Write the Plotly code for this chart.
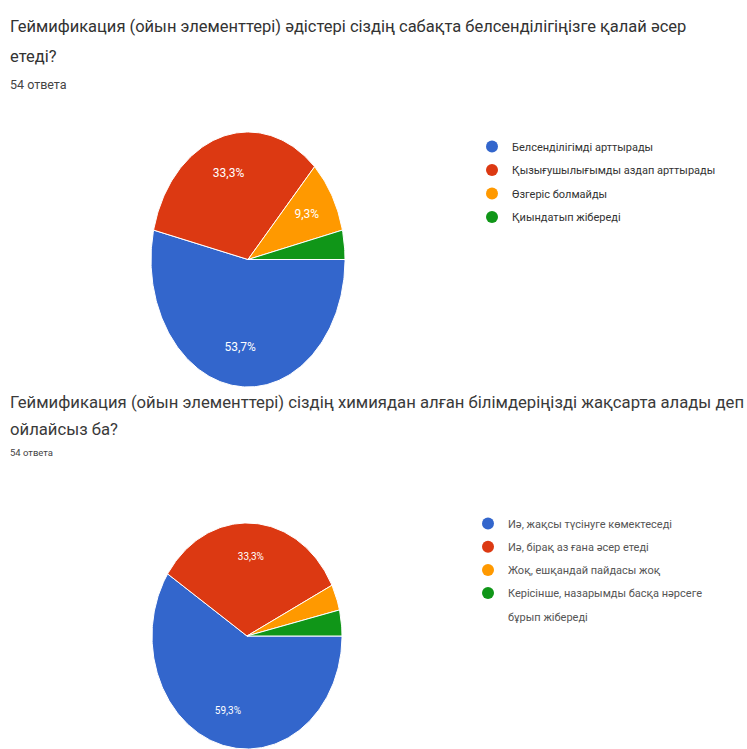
import numpy as np
import plotly.graph_objects as go

W, H = 747, 749

# Question 1
q1_title = [
    "Геймификация (ойын элементтері) әдістері сіздің сабақта белсенділігіңізге қалай әсер",
    "етеді?",
]
q1_labels = [
    "Белсенділігімді арттырады",
    "Қызығушылығымды аздап арттырады",
    "Өзгеріс болмайды",
    "Қиындатып жібереді",
]
q1_counts = [29, 18, 5, 2]

# Question 2
q2_title = [
    "Геймификация (ойын элементтері) сіздің химиядан алған білімдеріңізді жақсарта алады деп",
    "ойлайсыз ба?",
]
q2_labels = [
    "Иә, жақсы түсінуге көмектеседі",
    "Иә, бірақ аз ғана әсер етеді",
    "Жоқ, ешқандай пайдасы жоқ",
    "Керісінше, назарымды басқа нәрсеге\nбұрып жібереді",
]
q2_counts = [32, 18, 2, 2]

responses_text = "54 ответа"
slice_colors = ["#3366cc", "#dc3912", "#ff9900", "#109618"]

fig = go.Figure()


def add_pie(counts, labels, xa, ya, legend, label_size):
    """Wedges run clockwise from 3 o'clock, as in Google Forms summaries."""
    total = float(sum(counts))
    start = 0.0
    for i, (c, lab, col) in enumerate(zip(counts, labels, slice_colors)):
        frac = c / total
        a0, a1 = start * 2 * np.pi, (start + frac) * 2 * np.pi
        t = np.linspace(a0, a1, max(int(frac * 360), 2) + 1)
        xs = np.concatenate([[0], np.cos(t), [0]])
        ys = np.concatenate([[0], -np.sin(t), [0]])
        fig.add_trace(go.Scatter(
            x=xs, y=ys, mode="lines", fill="toself", fillcolor=col,
            line=dict(color="white", width=1), hoverinfo="skip",
            showlegend=False, xaxis=xa, yaxis=ya,
        ))
        if frac > 0.05:
            mid = (a0 + a1) / 2
            fig.add_trace(go.Scatter(
                x=[0.7 * np.cos(mid)], y=[-0.7 * np.sin(mid)], mode="text",
                text=[f"{frac * 100:.1f}%".replace(".", ",")],
                textfont=dict(color="white", size=label_size, family="Roboto"),
                hoverinfo="skip", showlegend=False, xaxis=xa, yaxis=ya,
            ))
        # legend rows; wrapped labels continue on their own row without a dot
        for j, part in enumerate(lab.split("\n")):
            dot = col if j == 0 else "rgba(255,255,255,0)"
            fig.add_trace(go.Scatter(
                x=[None], y=[None], mode="markers", name=part,
                marker=dict(color=dot, size=12, line=dict(width=0)),
                legend=legend, legendgroup=f"{legend}-{i}-{j}", showlegend=True,
                hoverinfo="skip", xaxis=xa, yaxis=ya,
            ))
        start += frac


add_pie(q1_counts, q1_labels, "x", "y", "legend", 12)
add_pie(q2_counts, q2_labels, "x2", "y2", "legend2", 10)

hidden = dict(visible=False, range=[-1, 1], fixedrange=True)

fig.update_layout(
    width=W, height=H,
    margin=dict(l=0, r=0, t=0, b=0),
    paper_bgcolor="white", plot_bgcolor="white",
    xaxis=dict(domain=[151 / W, 345 / W], **hidden),
    yaxis=dict(domain=[1 - 387 / H, 1 - 132 / H], **hidden),
    xaxis2=dict(domain=[152 / W, 342 / W], anchor="y2", **hidden),
    yaxis2=dict(domain=[0, 1 - 523 / H], anchor="x2", **hidden),
    legend=dict(
        x=472 / W, y=1 - 132 / H, xanchor="left", yanchor="top",
        tracegroupgap=4.5, bgcolor="rgba(0,0,0,0)",
        font=dict(family="Roboto", size=11, color="#333333"),
    ),
    legend2=dict(
        x=468 / W, y=1 - 509 / H, xanchor="left", yanchor="top",
        tracegroupgap=4.2, bgcolor="rgba(0,0,0,0)",
        font=dict(family="Roboto", size=11, color="#555555"),
    ),
    showlegend=True,
)

title_font1 = dict(family="Roboto", size=16.5, color="#333333")
title_font2 = dict(family="Roboto", size=16.7, color="#3a3a3a")
note_font = dict(family="Roboto", size=12.5, color="#444444")

texts = [
    (q1_title[0], 27, title_font1),
    (q1_title[1], 56, title_font1),
    (responses_text, 84, note_font),
    (q2_title[0], 402, title_font2),
    (q2_title[1], 429, title_font2),
    (responses_text, 452, dict(note_font, size=9.5)),
]
for txt, py, f in texts:
    fig.add_annotation(
        text=txt, x=8 / W, y=1 - py / H, xref="paper", yref="paper",
        xanchor="left", yanchor="middle", showarrow=False, font=f,
    )

fig.write_html("out.html")
